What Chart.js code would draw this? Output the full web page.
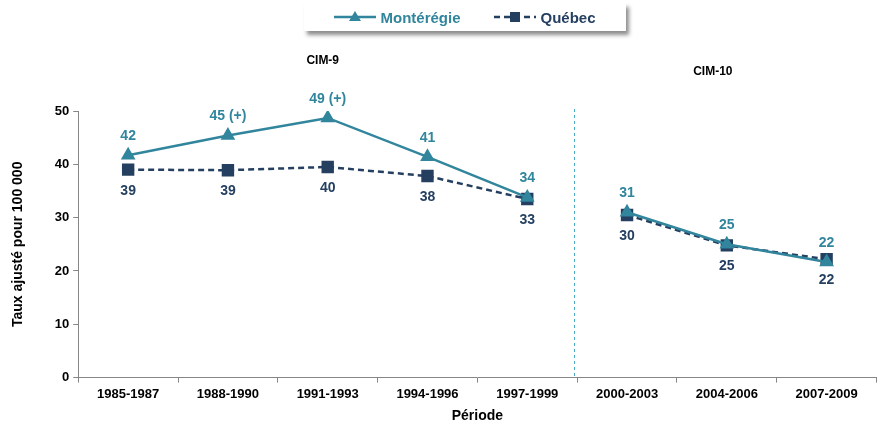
<!DOCTYPE html>
<html>
<head>
<meta charset="utf-8">
<title>Taux ajusté - Montérégie et Québec</title>
<script src="https://cdn.jsdelivr.net/npm/chart.js@4.4.0/dist/chart.umd.min.js"></script>
<style>
  html, body { margin: 0; padding: 0; background: #fff; overflow: hidden; }
  #wrap { position: relative; width: 880px; height: 422px; overflow: hidden; }
  #chart { position: absolute; left: 0; top: 0; }
  #legend {
    position: absolute; left: 304px; top: 3px; width: 322px; height: 28px;
    background: #fff; box-shadow: 3px 4px 4px rgba(0,0,0,0.45);
    font: bold 15px "Liberation Sans", Arial, sans-serif;
    display: flex; align-items: center; justify-content: center; gap: 34px;
  }
  #legend span { display: flex; align-items: center; gap: 4px; }
</style>
</head>
<body>
<div id="wrap">
  <canvas id="chart" width="886" height="422"></canvas>
  <div id="legend">
    <span style="color:#31859c">
      <svg width="42" height="12"><line x1="0" y1="6" x2="42" y2="6" stroke="#31859c" stroke-width="2.5"/><polygon points="21,0 27,10 15,10" fill="#31859c"/></svg>Montérégie
    </span>
    <span style="color:#243f60">
      <svg width="42" height="12"><line x1="0" y1="6" x2="42" y2="6" stroke="#243f60" stroke-width="2.5" stroke-dasharray="6,4"/><rect x="16" y="1" width="10" height="10" fill="#243f60"/></svg>Québec
    </span>
  </div>
</div>
<script>
const periods = ['1985-1987', '1988-1990', '1991-1993', '1994-1996', '1997-1999', '2000-2003', '2004-2006', '2007-2009'];
const monteregie = [41.7, 45.4, 48.7, 41.4, 33.8, 31.0, 25.0, 21.7];
const quebec = [39.0, 38.9, 39.5, 37.8, 33.5, 30.5, 24.8, 22.2];
const monteregieLabels = ['42', '45 (+)', '49 (+)', '41', '34', '31', '25', '22'];
const quebecLabels = ['39', '39', '40', '38', '33', '30', '25', '22'];
const yTicks = [0, 10, 20, 30, 40, 50];
const breakAfter = 4; // last CIM-9 period

const FONT = '"Liberation Sans", Arial, sans-serif';

// labels above / below the points, CIM notes and the separator line
const extras = {
  id: 'extras',
  afterDatasetsDraw(chart) {
    const ctx = chart.ctx;
    const x = chart.scales.x, y = chart.scales.y;
    ctx.save();
    ctx.font = 'bold 14px ' + FONT;
    ctx.textAlign = 'center';
    ctx.textBaseline = 'middle';
    chart.getDatasetMeta(0).data.forEach((p, i) => {
      ctx.fillStyle = '#31859c';
      ctx.fillText(monteregieLabels[i], p.x, p.y - 19);
    });
    chart.getDatasetMeta(1).data.forEach((p, i) => {
      ctx.fillStyle = '#243f60';
      ctx.fillText(quebecLabels[i], p.x, p.y + 21);
    });

    // separator between CIM-9 and CIM-10
    const sx = Math.round((x.getPixelForValue(breakAfter) + x.getPixelForValue(breakAfter + 1)) / 2 - 3) + 0.5;
    ctx.strokeStyle = '#4bacc6';
    ctx.lineWidth = 1;
    ctx.setLineDash([3, 3]);
    ctx.beginPath();
    ctx.moveTo(sx, y.top - 2);
    ctx.lineTo(sx, y.bottom);
    ctx.stroke();

    ctx.fillStyle = '#000';
    ctx.font = 'bold 12px ' + FONT;
    ctx.fillText('CIM-9', x.getPixelForValue(2) - 5, 61);
    ctx.fillText('CIM-10', x.getPixelForValue(6) - 14, 72);
    ctx.restore();
  }
};

const noBridge = c => c.p0DataIndex === breakAfter ? 'rgba(0,0,0,0)' : undefined;

new Chart(document.getElementById('chart'), {
  type: 'line',
  data: {
    labels: periods,
    datasets: [{
      label: 'Montérégie',
      data: monteregie,
      borderColor: '#31859c',
      backgroundColor: '#31859c',
      borderWidth: 2.5,
      pointStyle: 'triangle',
      pointRadius: 6,
      tension: 0,
      segment: { borderColor: noBridge }
    }, {
      label: 'Québec',
      data: quebec,
      borderColor: '#243f60',
      backgroundColor: '#243f60',
      borderWidth: 2.5,
      borderDash: [6, 4],
      pointStyle: 'rect',
      pointRadius: 7,
      tension: 0,
      segment: { borderColor: noBridge }
    }]
  },
  options: {
    responsive: false,
    animation: false,
    layout: { padding: { top: 111, right: 0, left: 6, bottom: -7 } },
    plugins: {
      legend: { display: false },
      tooltip: { enabled: false }
    },
    scales: {
      x: {
        offset: true,
        afterFit(s) { s.paddingRight = 0; s.paddingLeft = 0; },
        grid: { display: true, drawOnChartArea: false, offset: true, tickLength: 5, color: '#868686' },
        border: { color: '#868686', width: 1 },
        ticks: { color: '#000', font: { family: FONT, size: 13, weight: 'bold' }, maxRotation: 0, padding: 4 },
        title: { display: true, text: 'Période', color: '#000', font: { family: FONT, size: 14, weight: 'bold' }, padding: { top: 2 } }
      },
      y: {
        min: 0,
        max: 50,
        afterBuildTicks(s) { s.ticks = yTicks.map(v => ({ value: v })); },
        grid: { display: true, drawOnChartArea: false, tickLength: 5, color: '#868686' },
        border: { color: '#868686', width: 1 },
        ticks: { color: '#000', font: { family: FONT, size: 13, weight: 'bold' }, padding: 4 },
        title: { display: true, text: 'Taux ajusté pour 100 000', color: '#000', font: { family: FONT, size: 14, weight: 'bold' }, padding: { top: 4, bottom: 24 } }
      }
    }
  },
  plugins: [extras]
});
</script>
</body>
</html>
